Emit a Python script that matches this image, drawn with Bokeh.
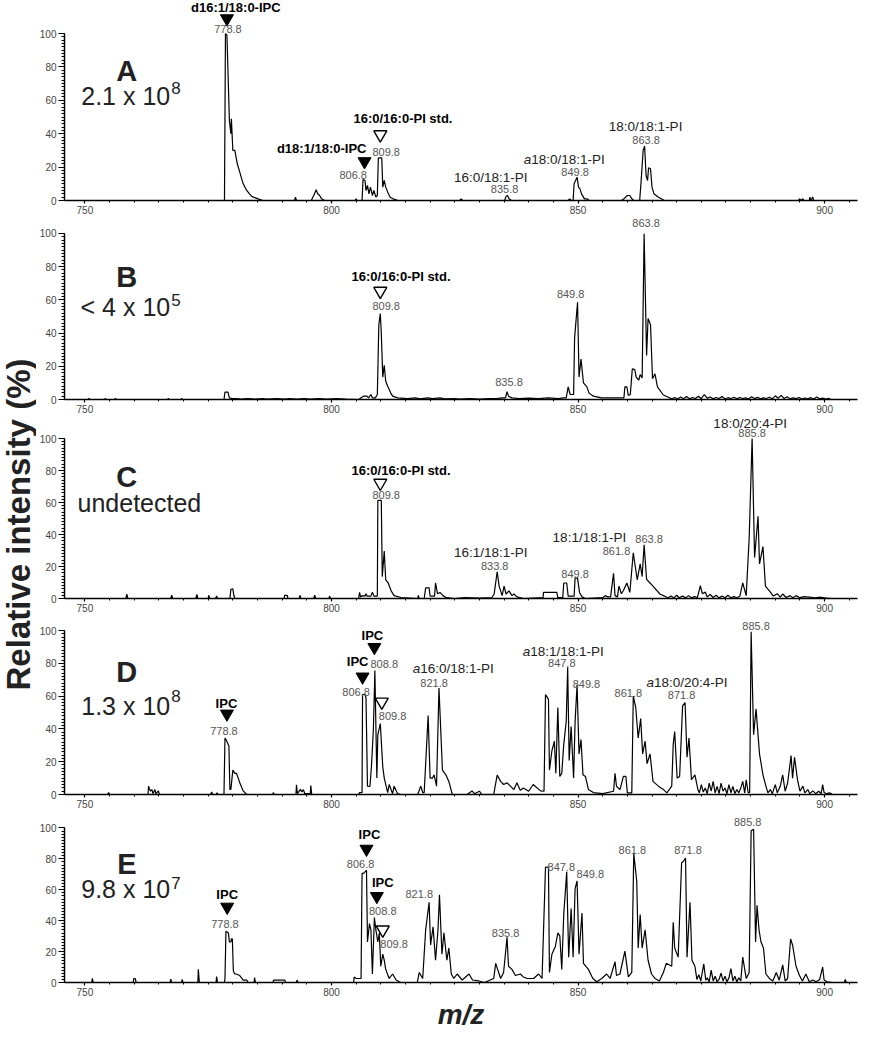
import math
from bokeh.plotting import figure
from bokeh.layouts import row, column
from bokeh.models import Range1d, SingleIntervalTicker
from bokeh.core.properties import value
from bokeh.embed import file_html
from bokeh.resources import INLINE

FONT = "Liberation Sans"

# ---------------- data ----------------
X_TICK_STEP = 50
Y_TICK_STEP = 20
X_TITLE = "m/z"
Y_TITLE = "Relative intensity (%)"

SPEC_A = [
    (750.0, 0), (778.3, 0), (778.5, 100), (778.8, 99), (779.3, 48), (779.6, 40), (779.7, 49),
    (780.0, 30), (780.4, 30), (780.9, 22), (781.4, 17), (781.8, 13), (782.1, 10), (782.8, 6),
    (783.8, 2.5), (785.1, 1), (786.1, 0), (792.5, 0), (792.7, 2), (792.9, 0), (795.9, 0),
    (796.4, 3), (796.9, 6.5), (797.2, 4), (797.6, 3), (798.0, 1), (798.6, 0), (804.8, 0),
    (805.0, 1), (805.2, 0), (806.2, 0), (806.4, 12.6), (806.8, 12), (807.0, 6), (807.3, 9),
    (807.6, 4), (807.9, 8), (808.3, 3), (808.6, 6), (809.0, 2), (809.3, 3), (809.5, 25.5),
    (810.2, 25.5), (810.4, 8), (810.7, 12), (811.0, 8), (811.4, 5), (811.9, 2), (812.5, 1),
    (813.5, 0), (826.0, 0), (826.3, 1), (826.6, 0), (835.1, 0), (835.4, 2.5), (835.7, 3),
    (836.0, 1), (836.5, 0), (848.0, 0), (848.3, 1), (848.6, 0), (849.0, 0), (849.2, 10),
    (849.8, 14), (850.1, 8), (850.4, 7), (850.7, 4), (851.3, 1), (851.8, 1), (852.3, 0),
    (858.8, 0), (859.3, 1), (860.0, 3), (860.5, 3), (860.9, 1), (861.3, 0), (862.5, 0),
    (862.8, 12), (863.2, 30), (863.5, 32.5), (863.8, 15), (864.1, 12), (864.3, 19.6),
    (864.7, 19), (865.0, 8), (865.4, 4), (866.3, 2), (866.9, 1), (867.5, 0), (894.7, 0),
    (894.9, 1), (895.2, 0), (895.6, 1), (895.8, 0), (896.9, 0), (897.0, 2), (897.2, 0),
    (897.6, 2), (897.8, 0), (906.0, 0),
]

SPEC_B = [
    (746.1, 0), (750.6, 0), (750.8, 0.6), (751.0, 0), (754.0, 0), (754.1, 0.6), (754.3, 0),
    (756.0, 0), (756.2, 0.6), (756.4, 0), (766.8, 0), (766.9, 0.6), (767.1, 0), (769.5, 0),
    (769.6, 0.6), (769.8, 0), (778.2, 0), (778.4, 4.5), (779.0, 4.5), (779.3, 1), (779.8, 0.6),
    (781.0, 0.6), (781.5, 0.2), (783.0, 0.6), (784.5, 0.2), (786.0, 0.6), (787.0, 0.2),
    (789.0, 0.5), (790.5, 0.2), (791.5, 0.6), (793.0, 0.2), (794.5, 0.6), (795.5, 0.2),
    (797.5, 0.5), (799.0, 0.2), (801.0, 0.5), (803.0, 0.2), (805.5, 0), (806.0, 1), (806.5, 2),
    (807.2, 2), (807.5, 1), (808.0, 3), (808.3, 1), (808.9, 1), (809.3, 3), (809.6, 45),
    (809.9, 51.8), (810.1, 40), (810.4, 13.5), (810.7, 20.6), (811.0, 11), (811.4, 8),
    (812.0, 4), (812.4, 2), (813.4, 1), (815.4, 0.5), (817.0, 1), (818.0, 0.4), (819.5, 1),
    (820.5, 0.5), (822.0, 1), (823.0, 0.4), (825.0, 0.6), (826.0, 0.2), (828.0, 0.6),
    (830.0, 0.2), (832.0, 0.6), (833.5, 0.5), (834.5, 1), (835.3, 1), (835.6, 4.7), (835.9, 2),
    (836.6, 1), (838.0, 0.5), (840.0, 0.8), (842.0, 0.5), (844.0, 1), (846.0, 0.5), (847.0, 1),
    (847.6, 1), (848.0, 7.6), (848.4, 3), (849.1, 3), (849.3, 37), (849.9, 58.6), (850.2, 13.5),
    (850.6, 24.3), (851.1, 10), (851.8, 7.6), (852.2, 4), (853.1, 2), (854.8, 1), (856.5, 1),
    (858.5, 1), (859.3, 1), (859.5, 7.6), (859.9, 7.6), (860.2, 2.5), (860.6, 3), (861.0, 18.4),
    (861.5, 18), (861.8, 13.5), (862.3, 11.6), (862.6, 15), (863.0, 13), (863.4, 99.8),
    (863.9, 26.5), (864.2, 48.8), (864.7, 45), (865.1, 12.5), (865.6, 15.5), (866.1, 7.6),
    (867.3, 2.7), (868.3, 1.4), (869.0, 0.4), (869.6, 1.2), (870.2, 0.3), (870.8, 1.5),
    (871.4, 0.5), (872.0, 1.8), (872.6, 0.4), (873.2, 1.2), (873.8, 0.6), (874.4, 2),
    (875.0, 0.5), (875.6, 3), (876.2, 0.8), (876.8, 1.5), (877.4, 0.4), (878.0, 1.2),
    (878.6, 0.6), (879.2, 1.8), (879.8, 0.3), (880.4, 1.1), (881.0, 0.5), (881.6, 1.4),
    (882.2, 0.4), (882.8, 1.2), (883.4, 0.6), (884.0, 1), (884.6, 0.3), (885.2, 1.6),
    (885.8, 0.5), (886.4, 1.3), (887.0, 0.4), (887.6, 1), (888.2, 0.6), (888.8, 1.4),
    (889.4, 0.4), (890.0, 2.2), (890.6, 0.8), (891.2, 2.5), (891.8, 0.6), (892.4, 1.6),
    (893.0, 0.4), (893.6, 1), (894.2, 0.5), (894.8, 1.2), (895.4, 0.3), (896.0, 0.9),
    (896.6, 0.4), (897.2, 1.1), (897.8, 0.3), (898.4, 1.5), (899.0, 0.4), (899.6, 0.8),
    (900.2, 0.3), (900.8, 0.7), (901.3, 0),
]

SPEC_C = [
    (752.0, 0), (758.3, 0), (758.5, 2.8), (758.7, 0), (767.4, 0), (767.6, 2), (767.8, 0),
    (772.5, 0), (772.7, 2.5), (772.9, 0), (775.0, 0), (775.1, 2), (775.3, 0), (776.5, 0),
    (776.7, 1.5), (776.9, 0), (779.4, 0), (779.6, 5.8), (780.0, 6), (780.2, 2), (780.4, 0),
    (790.4, 0), (790.5, 2), (791.0, 2), (791.2, 0), (793.5, 0), (793.6, 2), (793.8, 0),
    (796.4, 0), (796.6, 2), (796.8, 0), (799.5, 0), (799.6, 1.5), (799.8, 0), (805.5, 0),
    (805.7, 3.8), (805.9, 1), (806.3, 1.8), (806.8, 1.5), (807.0, 3), (807.2, 1.5), (808.0, 1.5),
    (808.3, 4), (808.6, 1.5), (809.3, 1.5), (809.4, 61.3), (810.1, 61.3), (810.3, 13.7),
    (810.7, 29.6), (811.0, 11.7), (811.5, 9.7), (812.1, 4.8), (812.7, 1.8), (814.1, 0.6),
    (817.5, 0), (817.6, 2), (817.8, 0), (818.8, 0), (819.1, 6.7), (819.8, 6.7), (820.0, 1.5),
    (820.9, 1.5), (821.1, 9.7), (821.5, 3), (822.0, 3.8), (822.6, 1.8), (823.3, 0.5), (825.0, 0),
    (827.0, 0.5), (830.0, 0.3), (832.5, 0.5), (833.0, 3), (833.6, 16.7), (834.0, 7.7),
    (834.6, 1.8), (835.0, 7.7), (835.4, 2.8), (836.0, 4.8), (836.6, 1.8), (837.0, 2.8),
    (837.6, 1), (839.0, 0), (842.9, 0.5), (843.0, 3.8), (845.7, 3.8), (845.9, 0.5), (846.9, 0.5),
    (847.1, 9.7), (847.7, 9.7), (848.0, 1.5), (849.2, 1.5), (849.4, 12.7), (849.9, 12.7),
    (850.3, 3.8), (850.8, 1), (851.5, 0), (855.0, 0.5), (855.5, 1.8), (856.0, 1), (856.6, 1),
    (857.2, 15.7), (857.5, 1.8), (858.0, 1), (858.3, 7.7), (858.8, 3), (859.2, 5), (859.9, 9.7),
    (860.5, 3.8), (861.2, 28.6), (862.0, 11.7), (862.6, 21.6), (863.0, 13.7), (863.4, 33.5),
    (863.9, 12), (864.6, 9.7), (865.2, 7.7), (866.6, 2.8), (867.5, 1.5), (868.2, 0.3),
    (868.8, 1.6), (869.4, 0.4), (870.0, 2), (870.5, 0.5), (871.2, 1.5), (871.8, 0.4),
    (872.4, 1.8), (873.0, 0.5), (873.6, 1.2), (874.2, 0.6), (874.8, 8), (875.2, 3), (875.8, 4),
    (876.2, 1), (876.8, 2.5), (877.4, 0.6), (878.0, 2), (878.6, 0.4), (879.2, 1.5), (879.8, 0.5),
    (880.4, 2), (881.0, 0.4), (881.6, 1.2), (882.2, 0.5), (882.8, 1.4), (883.4, 9.7),
    (884.1, 1.8), (884.7, 37.5), (885.3, 100), (885.8, 25.6), (886.5, 51.4), (886.8, 21.6),
    (887.5, 32.5), (888.0, 7.7), (888.8, 4.8), (889.6, 1.5), (890.4, 3), (891.0, 0.8),
    (891.5, 2.8), (892.2, 0.6), (893.0, 1.8), (893.6, 0.5), (894.2, 1.8), (895.0, 0.5),
    (895.8, 1.2), (896.9, 0.8), (898.0, 0.4), (899.2, 0.8), (900.4, 0.3), (901.3, 0),
]

SPEC_D = [
    (750.4, 0), (754.6, 0), (754.8, 1.2), (755.0, 0), (762.8, 0), (762.9, 5.1), (763.3, 2),
    (763.6, 3), (763.8, 0.5), (764.2, 3), (764.4, 0.5), (764.9, 2.2), (765.1, 0), (775.5, 0),
    (775.7, 1.5), (775.9, 0), (776.6, 0), (776.8, 1), (777.0, 0), (778.2, 0), (778.4, 34.5),
    (778.7, 33), (779.2, 29.6), (779.4, 3.1), (779.6, 3.1), (780.0, 14.9), (780.4, 12.9),
    (780.7, 12.9), (781.1, 10), (781.4, 7.1), (782.1, 2.2), (782.8, 0), (788.1, 0), (788.2, 1.2),
    (788.4, 0), (792.8, 0), (792.9, 5.9), (793.1, 0.5), (793.7, 3.1), (794.0, 1.5), (794.3, 3),
    (794.6, 0.5), (795.7, 0.5), (795.8, 5.5), (796.0, 0), (805.5, 0), (805.7, 1.2), (806.2, 1.2),
    (806.3, 61), (806.8, 61), (807.0, 59), (807.3, 5.1), (807.8, 5), (808.1, 16.9), (808.5, 40),
    (808.8, 75.7), (809.2, 10), (809.4, 36.5), (809.9, 43.3), (810.4, 16.9), (810.7, 10),
    (811.4, 1.2), (811.7, 6.1), (812.4, 0.5), (812.7, 5.1), (813.4, 0.5), (814.0, 0),
    (817.5, 0), (818.1, 5.1), (818.5, 1.2), (818.8, 1.2), (819.6, 48.2), (820.0, 10),
    (820.5, 10), (820.8, 12), (821.1, 8), (821.3, 5.1), (821.8, 64.9), (822.5, 14.9),
    (823.2, 12), (823.8, 8), (824.5, 0), (827.5, 0), (828.5, 2.2), (829.0, 0.5), (830.0, 2),
    (830.5, 0), (832.9, 0), (833.6, 11.8), (834.3, 8), (834.9, 6.1), (835.6, 7.1), (836.3, 5.1),
    (837.0, 3), (837.6, 7.1), (838.3, 2.5), (838.9, 4), (840.0, 2), (840.9, 6.1), (842.4, 2.2),
    (843.1, 2), (843.4, 61), (844.0, 58), (844.2, 14.9), (844.7, 26.7), (845.2, 32.5),
    (845.5, 12.9), (845.9, 53.1), (846.3, 11), (846.7, 12.9), (847.1, 30.6), (847.6, 44.3),
    (847.9, 77.6), (848.2, 20.8), (848.6, 41.4), (849.1, 10), (849.4, 44.3), (849.8, 66.9),
    (850.2, 24.7), (850.6, 33.5), (851.0, 12), (851.5, 11), (852.1, 3.1), (853.1, 1.2),
    (855.0, 0.5), (857.2, 2), (857.5, 12.9), (857.8, 5), (858.5, 3), (859.2, 11), (859.7, 11),
    (860.0, 1), (860.9, 1), (861.2, 60), (861.7, 53.1), (862.2, 34.5), (862.7, 46.3),
    (863.1, 24.7), (863.6, 32.5), (864.0, 18.8), (864.6, 24.7), (865.2, 8), (866.3, 5.1),
    (867.3, 3.1), (868.0, 1), (869.0, 5.1), (869.3, 30.6), (869.6, 38.4), (870.1, 10),
    (870.6, 11), (871.2, 54.1), (871.7, 56.1), (872.1, 22.7), (872.5, 34.5), (873.0, 9),
    (873.7, 12), (874.3, 3.1), (874.6, 1), (875.0, 6), (875.4, 1.5), (875.8, 4), (876.2, 0.5),
    (876.6, 7), (877.0, 2), (877.4, 8), (877.8, 1), (878.2, 5), (878.6, 0.5), (879.0, 7),
    (879.4, 2), (879.8, 4), (880.2, 0.5), (880.6, 6), (881.0, 1), (881.4, 5), (881.8, 0.5),
    (882.2, 3), (882.6, 1), (883.0, 4), (883.4, 8), (883.8, 1), (884.1, 9), (884.5, 1.2),
    (884.8, 1.2), (885.1, 99.2), (885.6, 36.5), (886.1, 52.2), (886.8, 24.7), (887.5, 12),
    (888.1, 5.1), (888.5, 1), (889.0, 3), (889.4, 0.5), (890.0, 6), (890.4, 1), (891.0, 5),
    (891.5, 12), (892.0, 2), (892.5, 7), (893.2, 23.7), (893.5, 10), (893.9, 22.7), (894.5, 9),
    (895.0, 2), (895.6, 5.1), (896.0, 1), (896.6, 3), (897.0, 0.5), (897.6, 2.2), (898.2, 0.5),
    (898.8, 2), (899.3, 0.5), (899.6, 6.1), (899.9, 1.2), (900.4, 0.5), (901.0, 1), (901.6, 0),
]

SPEC_E = [
    (750.4, 0), (751.4, 0), (751.5, 2.6), (751.7, 0), (759.8, 0), (759.9, 2.6), (760.2, 2.6),
    (760.4, 0), (767.3, 0), (767.4, 2.2), (767.6, 0), (769.6, 0), (769.7, 2), (769.9, 0),
    (772.9, 0), (773.0, 8.5), (773.2, 0), (776.6, 0), (776.7, 3.9), (776.9, 0), (778.3, 0),
    (778.4, 2.6), (778.6, 33.1), (779.1, 32.1), (779.3, 26.2), (779.6, 26.2), (779.7, 28.2),
    (779.9, 28.2), (780.1, 7.5), (780.4, 5.5), (780.7, 5.5), (781.4, 4.5), (782.1, 1.6),
    (782.8, 1.6), (783.1, 0), (784.3, 0), (784.4, 3.2), (784.6, 0), (788.1, 0), (788.3, 1.6),
    (790.5, 1.6), (790.7, 0), (792.9, 0), (793.0, 1.6), (793.2, 0), (804.5, 0), (804.6, 3.6),
    (805.0, 2.6), (805.7, 2.6), (806.0, 2.6), (806.2, 70.6), (806.5, 70.6), (807.1, 72.6),
    (807.3, 26.2), (807.7, 38.1), (808.0, 34), (808.3, 5.5), (808.7, 42), (809.0, 34.1),
    (809.4, 26.2), (809.7, 32), (810.0, 10.5), (810.4, 18.3), (810.7, 14.4), (811.0, 8.5),
    (811.7, 2.6), (812.4, 5.5), (813.1, 1.6), (814.0, 0), (817.4, 0), (817.8, 6.5),
    (818.5, 2.6), (819.1, 34.1), (819.8, 51.9), (820.1, 24.3), (820.6, 36.1), (821.1, 14.4),
    (821.6, 34.1), (821.9, 56.8), (822.4, 18.3), (822.8, 32.1), (823.4, 14.4), (823.8, 22.3),
    (824.3, 5.5), (824.8, 2.6), (825.5, 5.5), (826.5, 1.6), (827.9, 5.5), (828.6, 1.6),
    (829.9, 1), (831.0, 0), (832.9, 2.6), (833.3, 12.4), (834.3, 2.6), (834.9, 6.5),
    (835.6, 29.2), (835.9, 10.5), (836.6, 8.5), (837.3, 4.5), (838.3, 5.5), (838.9, 3.6),
    (839.7, 2.6), (841.0, 2.6), (842.0, 5.5), (842.7, 2.6), (843.4, 74.6), (844.0, 74.6),
    (844.2, 6.5), (844.7, 18.3), (845.4, 23.3), (845.9, 32.1), (846.3, 30.2), (846.7, 8.5),
    (847.1, 44), (847.7, 71.6), (848.1, 16.4), (848.6, 47.9), (849.0, 16.4), (849.4, 60.7),
    (849.8, 65.7), (850.2, 18.3), (850.8, 45), (851.1, 12.4), (852.1, 8.5), (853.0, 2.6),
    (853.8, 0.5), (854.8, 2.6), (855.8, 5.5), (856.5, 2.6), (857.5, 13.4), (857.8, 4.5),
    (858.5, 5.5), (859.5, 20.3), (860.2, 3.6), (860.9, 6.5), (861.3, 83.4), (861.9, 65.7),
    (862.2, 22.3), (862.6, 44), (863.0, 22.3), (863.6, 34.1), (864.2, 14.4), (864.9, 5.5),
    (865.6, 2.6), (866.5, 1), (867.3, 6.5), (867.9, 12.4), (869.0, 10.5), (869.3, 39),
    (869.6, 22.3), (870.3, 16.4), (871.0, 77.5), (871.4, 78.5), (871.8, 80.5), (872.1, 16.4),
    (872.7, 51.9), (873.1, 14.4), (873.7, 10.5), (874.1, 2), (874.5, 5), (874.9, 1),
    (875.5, 12), (875.9, 1.5), (876.2, 3), (876.6, 0.5), (877.0, 8), (877.4, 1), (877.8, 4),
    (878.2, 0.5), (878.6, 2), (879.0, 6), (879.4, 1), (879.8, 4), (880.2, 0.5), (880.6, 3),
    (881.0, 9), (881.4, 1), (881.8, 4), (882.2, 0.5), (882.6, 3), (883.0, 1), (883.4, 16.4),
    (884.1, 2.6), (884.7, 6.5), (885.1, 98.2), (885.6, 99.2), (886.0, 26.2), (886.3, 49.9),
    (886.7, 34.1), (887.1, 26.2), (887.6, 22.3), (888.1, 5.5), (888.8, 2.6), (889.5, 1),
    (890.2, 6.5), (890.8, 1.5), (891.5, 11.4), (892.0, 1), (892.5, 2.6), (893.1, 28.2),
    (893.5, 24.3), (894.2, 10.5), (894.9, 4.5), (895.5, 1), (896.2, 5.5), (896.9, 0.5),
    (897.6, 1.6), (898.3, 0.5), (899.0, 2), (899.6, 10), (899.9, 1.6), (900.5, 0.5),
    (901.6, 0), (904.0, 0), (904.2, 2), (904.4, 0),
]

PANEL_TAGS = ["A", "B", "C", "D", "E"]
PANEL_TOTALS = ["2.1 x 10", "< 4 x 10", "undetected", "1.3 x 10", "9.8 x 10"]
PANEL_EXPONENTS = ["8", "5", "", "8", "7"]

# peak m/z labels (text, m/z, intensity)
NUMS_A = [("778.8", 779.0, 102.8), ("806.8", 804.4, 15), ("809.8", 811.1, 29.3),
          ("835.8", 835.1, 7), ("849.8", 849.4, 17), ("863.8", 863.8, 36.5)]
NUMS_B = [("809.8", 811.1, 56.5), ("835.8", 836.0, 10.6), ("849.8", 848.5, 63.5),
          ("863.8", 863.8, 106.3)]
NUMS_C = [("809.8", 811.1, 64.9), ("833.8", 833.1, 20.3), ("849.8", 849.4, 15.5),
          ("861.8", 857.8, 30), ("863.8", 864.4, 37.5), ("885.8", 885.3, 103.6)]
NUMS_D = [("778.8", 778.2, 38.8), ("806.8", 805.0, 62.4), ("808.8", 810.7, 79.6),
          ("809.8", 812.4, 47.8), ("821.8", 820.8, 68.2), ("847.8", 846.7, 80),
          ("849.8", 851.7, 67.5), ("861.8", 860.2, 62), ("871.8", 871.0, 60.4),
          ("885.8", 886.1, 103)]
NUMS_E = [("778.8", 778.4, 38), ("806.8", 805.9, 76.9), ("808.8", 810.4, 46),
          ("809.8", 812.7, 24.7), ("821.8", 817.8, 57.2), ("835.8", 835.3, 32.1),
          ("847.8", 846.6, 75), ("849.8", 852.5, 70), ("861.8", 861.0, 86),
          ("871.8", 872.3, 86), ("885.8", 884.4, 104)]

# species names (regular)
NAMES_A = [("16:0/18:1-PI", 832.3, 13.8), ("18:0/18:1-PI", 863.7, 44.3)]
NAMES_B = []
NAMES_C = [("16:1/18:1-PI", 832.3, 28.5), ("18:1/18:1-PI", 852.3, 38),
           ("18:0/20:4-PI", 884.9, 109.4)]
NAMES_D = []
NAMES_E = []

# species names with italic "a" prefix (rest of text, m/z of the join, intensity)
ANAMES_A = [("18:0/18:1-PI", 840.5, 24.6)]
ANAMES_B = []
ANAMES_C = []
ANAMES_D = [("16:0/18:1-PI", 818.0, 76.6), ("18:1/18:1-PI", 840.3, 87.5),
            ("18:0/20:4-PI", 865.4, 68.2)]
ANAMES_E = []

# bold labels (text, m/z, intensity, align)
BOLD_A = [("d16:1/18:0-IPC", 780.6, 115.6, "center"), ("d18:1/18:0-IPC", 807.1, 31, "right"),
          ("16:0/16:0-PI std.", 814.5, 49, "center")]
BOLD_B = [("16:0/16:0-PI std.", 814.1, 74, "center")]
BOLD_C = [("16:0/16:0-PI std.", 814.1, 80, "center")]
BOLD_D = [("IPC", 778.7, 55.7, "center"), ("IPC", 805.3, 81, "center"),
          ("IPC", 808.3, 97.2, "center")]
BOLD_E = [("IPC", 778.85, 57.2, "center"), ("IPC", 807.7, 95.9, "center"),
          ("IPC", 810.4, 64.7, "center")]

# markers: filled (IPC) and open (PI std.)
FILLED_A = [(778.8, 109.0), (806.7, 23.4)]
OPEN_A = [(809.9, 39.5)]
FILLED_B = []
OPEN_B = [(809.9, 65.3)]
FILLED_C = []
OPEN_C = [(809.9, 72.2)]
FILLED_D = [(778.8, 49.2), (806.3, 71.8), (808.7, 89.8)]
OPEN_D = [(810.2, 56.5)]
FILLED_E = [(778.85, 48.9), (807.1, 86.4), (809.2, 55.8)]
OPEN_E = [(810.4, 34.1)]

# ---------------- layout ----------------
TITLE_W = 36
PANEL_W = 822
LEFT_BORDER = 25
RIGHT_BORDER = 1
X_START, X_END = 745.86, 906.67

PANELS = [
    dict(spec=SPEC_A, nums=NUMS_A, names=NAMES_A, anames=ANAMES_A, bold=BOLD_A,
         filled=FILLED_A, open=OPEN_A, h=216, bb=16, ytop=119.8,
         tag_y=77.5, tot_y=62.5, exp_y=67.3),
    dict(spec=SPEC_B, nums=NUMS_B, names=NAMES_B, anames=ANAMES_B, bold=BOLD_B,
         filled=FILLED_B, open=OPEN_B, h=199, bb=16, ytop=110.2,
         tag_y=73.6, tot_y=56.0, exp_y=60.0),
    dict(spec=SPEC_C, nums=NUMS_C, names=NAMES_C, anames=ANAMES_C, bold=BOLD_C,
         filled=FILLED_C, open=OPEN_C, h=199, bb=16, ytop=114.4,
         tag_y=76.0, tot_y=60.0, exp_y=60.0),
    dict(spec=SPEC_D, nums=NUMS_D, names=NAMES_D, anames=ANAMES_D, bold=BOLD_D,
         filled=FILLED_D, open=OPEN_D, h=196, bb=16, ytop=109.8,
         tag_y=74.5, tot_y=54.0, exp_y=60.0),
    dict(spec=SPEC_E, nums=NUMS_E, names=NAMES_E, anames=ANAMES_E, bold=BOLD_E,
         filled=FILLED_E, open=OPEN_E, h=222, bb=44, ytop=111.3,
         tag_y=76.5, tot_y=60.8, exp_y=64.7),
]

TAG_X = 758.5
TOTAL_RIGHT_X = 767.3
EXP_LEFT_X = 767.5
UNDET_LEFT_X = 748.5


def style_axes(p):
    xa = p.xaxis[0]
    ya = p.yaxis[0]
    xa.ticker = SingleIntervalTicker(interval=X_TICK_STEP, num_minor_ticks=10)
    ya.ticker = SingleIntervalTicker(interval=Y_TICK_STEP, num_minor_ticks=10)
    ya.bounds = (0, 100)
    for ax in (xa, ya):
        ax.axis_line_color = "black"
        ax.axis_line_width = 1.5
        ax.major_tick_line_color = "black"
        ax.major_tick_line_width = 1.2
        ax.minor_tick_line_color = "black"
        ax.minor_tick_line_width = 1
        ax.major_tick_in = 0
        ax.minor_tick_in = 0
        ax.major_label_text_font = FONT
        ax.major_label_text_font_size = "10px"
        ax.major_label_text_color = "#444444"
        ax.major_label_standoff = 2
    xa.major_tick_out = 3
    xa.minor_tick_out = 2
    ya.major_tick_out = 6
    ya.minor_tick_out = 3


def text(p, xs, ys, ts, size, color="#222222", style="normal", align="center",
         baseline="middle"):
    if not ts:
        return
    p.text(x=xs, y=ys, text=ts, text_font=value(FONT), text_font_size=size,
           text_color=color, text_font_style=style, text_align=align,
           text_baseline=baseline)


figs = []
for i, cfg in enumerate(PANELS):
    p = figure(width=PANEL_W, height=cfg["h"], x_range=Range1d(X_START, X_END),
               y_range=Range1d(0, cfg["ytop"]), output_backend="svg",
               toolbar_location=None, min_border_left=LEFT_BORDER,
               min_border_right=RIGHT_BORDER, min_border_top=0,
               min_border_bottom=cfg["bb"])
    p.outline_line_color = None
    p.grid.visible = False
    style_axes(p)

    mz = [a for a, b in cfg["spec"]]
    it = [b for a, b in cfg["spec"]]
    p.line(mz, it, line_color="black", line_width=1.2)

    n = cfg["nums"]
    text(p, [c[1] for c in n], [c[2] for c in n], [c[0] for c in n], "11px", "#555555")
    n = cfg["names"]
    text(p, [c[1] for c in n], [c[2] for c in n], [c[0] for c in n], "13.5px")
    n = cfg["anames"]
    text(p, [c[1] for c in n], [c[2] for c in n], [c[0] for c in n], "13.5px", align="left")
    text(p, [c[1] for c in n], [c[2] for c in n], ["a"] * len(n), "13.5px",
         style="italic", align="right")
    for t, x, y, al in cfg["bold"]:
        text(p, [x], [y], [t], "13px", "black", style="bold", align=al)
    if cfg["filled"]:
        p.scatter([a for a, b in cfg["filled"]], [b for a, b in cfg["filled"]],
                  marker="inverted_triangle", size=13, fill_color="black",
                  line_color="black")
    if cfg["open"]:
        p.scatter([a for a, b in cfg["open"]], [b for a, b in cfg["open"]],
                  marker="inverted_triangle", size=13, fill_color="white",
                  line_color="black", line_width=1.4)

    text(p, [TAG_X], [cfg["tag_y"]], [PANEL_TAGS[i]], "29px", style="bold",
         baseline="alphabetic")
    if PANEL_EXPONENTS[i]:
        text(p, [TOTAL_RIGHT_X], [cfg["tot_y"]], [PANEL_TOTALS[i]], "25px",
             align="right", baseline="alphabetic")
        text(p, [EXP_LEFT_X], [cfg["exp_y"]], [PANEL_EXPONENTS[i]], "17px",
             align="left", baseline="alphabetic")
    else:
        text(p, [UNDET_LEFT_X], [cfg["tot_y"]], [PANEL_TOTALS[i]], "25px",
             align="left", baseline="alphabetic")
    figs.append(p)

# x-axis title on the bottom panel
bx = figs[-1].xaxis[0]
bx.axis_label = X_TITLE
bx.axis_label_text_font = FONT
bx.axis_label_text_font_size = "28px"
bx.axis_label_text_font_style = "bold italic"
bx.axis_label_text_color = "#222222"
bx.axis_label_standoff = 0

PANELS_H = sum(c["h"] for c in PANELS)

# y-axis title column
tf = figure(width=TITLE_W, height=PANELS_H, x_range=Range1d(0, TITLE_W),
            y_range=Range1d(0, PANELS_H), x_axis_type=None, y_axis_type=None,
            output_backend="svg", toolbar_location=None, min_border=0)
tf.outline_line_color = None
tf.grid.visible = False
tf.text(x=[TITLE_W / 2], y=[PANELS_H - 524], text=[Y_TITLE],
        angle=math.pi / 2, text_font=value(FONT), text_font_size="33px",
        text_font_style="bold", text_color="#222222", text_align="center",
        text_baseline="middle")

layout = row(tf, column(*figs))
open("out.html", "w").write(file_html(layout, INLINE))
